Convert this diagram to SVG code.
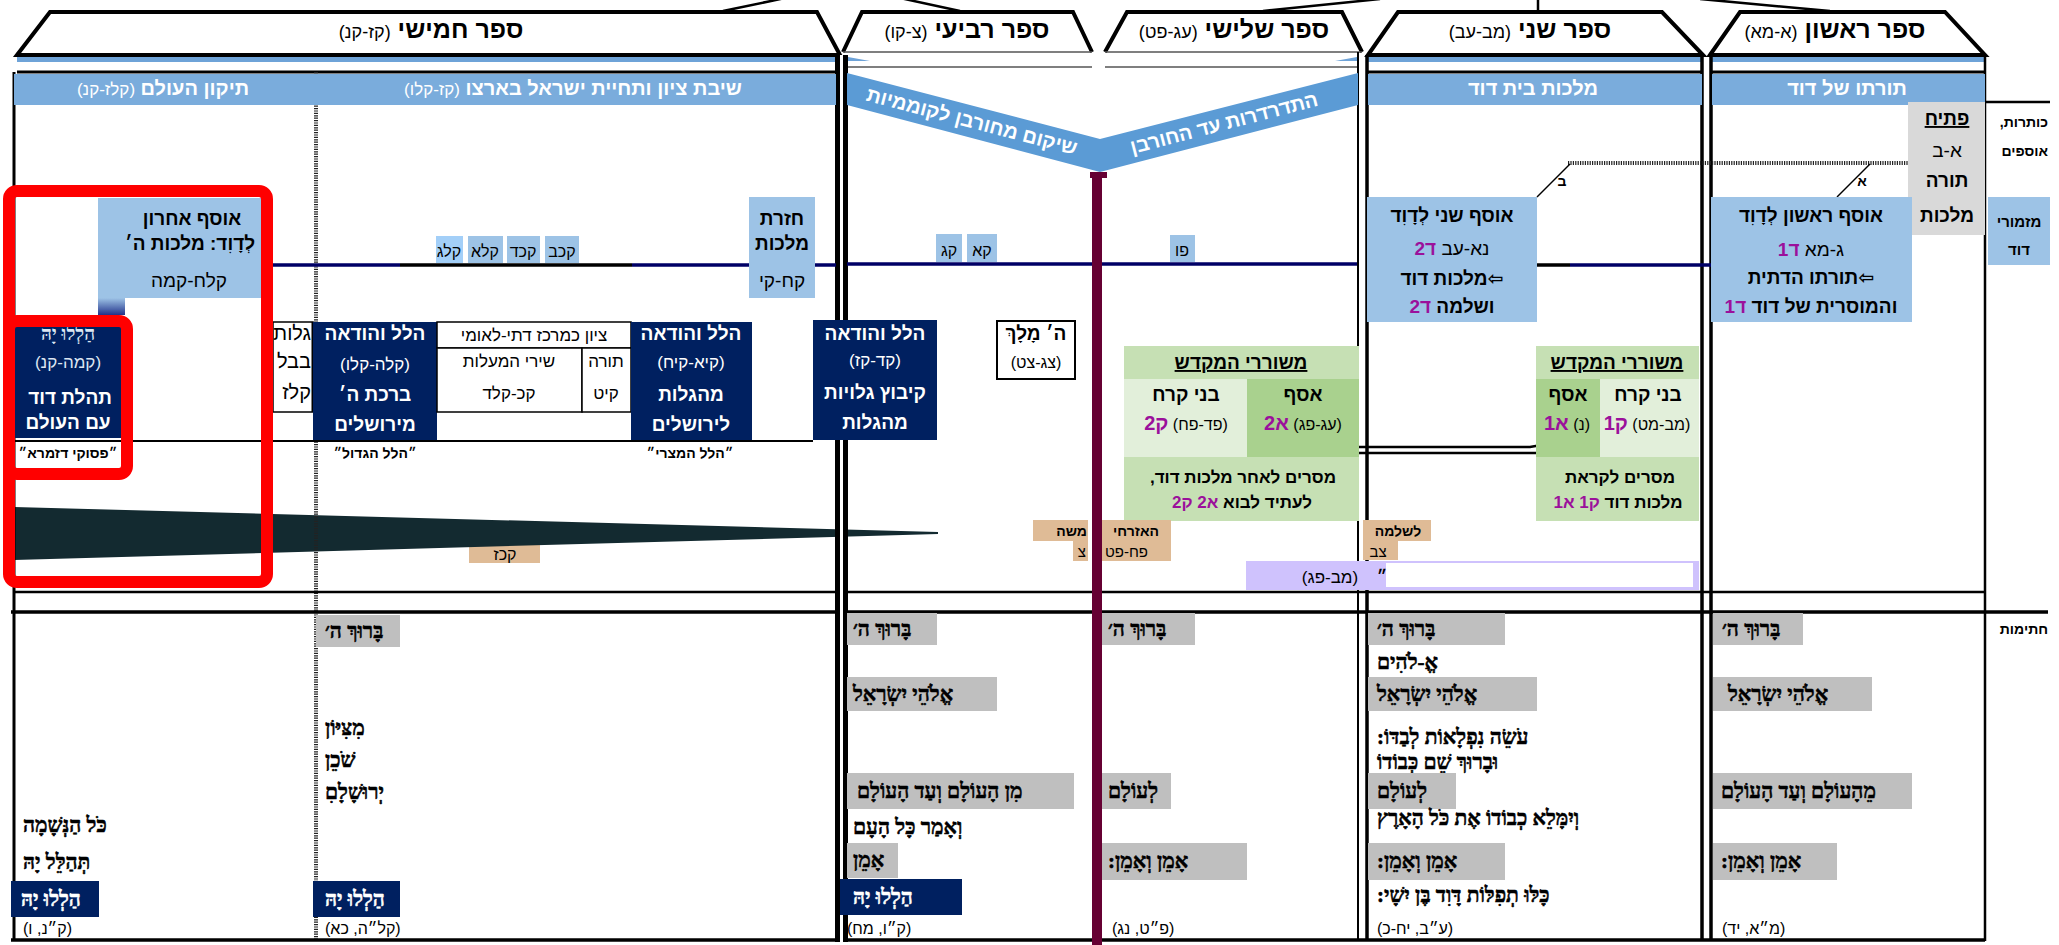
<svg xmlns="http://www.w3.org/2000/svg" width="2059" height="945" viewBox="0 0 2059 945">
<defs>
<style>
text{font-family:"Liberation Sans","DejaVu Sans",sans-serif;direction:rtl;fill:#000}
.b{font-weight:bold}
.c{text-anchor:middle}
.L{text-anchor:end}
.R{text-anchor:start}
.hd{font-size:25px;font-weight:bold}
.hs{font-size:18px;font-weight:normal}
.bd{font-size:20px;font-weight:bold;fill:#fff}
.bs{font-size:17px;font-weight:normal;fill:#fff}
.bx{font-size:19px}
.sm{font-size:16px}
.lab{font-size:14px;font-weight:bold}
.q{font-family:"Liberation Serif","DejaVu Sans",serif;font-weight:bold;font-size:21px;text-anchor:end;stroke:#000;stroke-width:0.55}
.q.w{stroke:#fff}
.ref{font-size:16px;text-anchor:end}
.w{fill:#fff}
.pu{fill:#9b109b;font-weight:bold}
.navy{fill:#002060}
.lb{fill:#9dc3e6}
.gr{fill:#bfbfbf}
.tan{fill:#dfbb96}
.cell{fill:#fff;stroke:#000;stroke-width:1.5}
</style>
<linearGradient id="gfade" x1="0" y1="0" x2="0" y2="1"><stop offset="0" stop-color="#9dc3e6"/><stop offset="1" stop-color="#22328a"/></linearGradient>
<clipPath id="clipG"><rect x="273" y="322" width="40" height="90"/></clipPath>
</defs>
<rect width="2059" height="945" fill="#fff"/>

<!-- headers -->
<g id="book5-header">
<polygon points="17,55 50,12 817,12 840,55" fill="#fff" stroke="#000" stroke-width="4"/>
<text x="431" y="38" class="c"><tspan class="hd">ספר חמישי </tspan><tspan class="hs">(קז-קנ)</tspan></text>
</g>
<g id="book4-header">
<polygon points="843,52 862,12 1073,12 1092,52" fill="#fff"/>
<polyline points="843,52 862,12 1073,12 1092,52" fill="none" stroke="#000" stroke-width="4"/>
<line x1="843" y1="52" x2="1092" y2="52" stroke="#555" stroke-width="1.5"/>
<line x1="847" y1="67" x2="1092" y2="67" stroke="#555" stroke-width="1.5"/>
<text x="967" y="38" class="c"><tspan class="hd">ספר רביעי </tspan><tspan class="hs">(צ-קו)</tspan></text>
</g>
<g id="book3-header">
<polygon points="1105,52 1127,12 1342,12 1362,52" fill="#fff"/>
<polyline points="1105,52 1127,12 1342,12 1362,52" fill="none" stroke="#000" stroke-width="4"/>
<line x1="1105" y1="52" x2="1362" y2="52" stroke="#555" stroke-width="1.5"/>
<line x1="1105" y1="67" x2="1358" y2="67" stroke="#555" stroke-width="1.5"/>
<text x="1234" y="38" class="c"><tspan class="hd">ספר שלישי </tspan><tspan class="hs">(עג-פט)</tspan></text>
</g>
<g id="book2-header">
<polygon points="1368,55 1398,12 1662,12 1703,55" fill="#fff" stroke="#000" stroke-width="4"/>
<text x="1530" y="38" class="c"><tspan class="hd">ספר שני </tspan><tspan class="hs">(מב-עב)</tspan></text>
</g>
<g id="book1-header">
<polygon points="1710,55 1740,12 1945,12 1985,55" fill="#fff" stroke="#000" stroke-width="4"/>
<text x="1835" y="38" class="c"><tspan class="hd">ספר ראשון </tspan><tspan class="hs">(א-מא)</tspan></text>
</g>

<!-- strips under headers -->
<g id="strips" fill="#6ea3d8">
<rect x="17" y="57" width="821" height="5"/>
<rect x="1368" y="57" width="335" height="5"/>
<rect x="1712" y="57" width="273" height="5"/>
<polygon points="848,57 870,61 848,61"/>
<polygon points="1357,57 1335,61 1357,61"/>
</g>

<!-- wedge and background items -->
<g id="tan-127">
<rect x="469" y="545" width="71" height="18" class="tan"/>
<text x="505" y="560" class="c sm">קכז</text>
</g>
<g id="wedge">
<polygon points="14,507 938,532 938,534 14,560" fill="#132a30"/>
</g>

<!-- frame -->
<g id="frame" stroke="#000" fill="none">
<line x1="17" y1="72" x2="836" y2="72" stroke-width="3"/>
<line x1="1368" y1="72" x2="1703" y2="72" stroke-width="3"/>
<line x1="1712" y1="72" x2="1985" y2="72" stroke-width="3"/>
<line x1="14" y1="72" x2="14" y2="941" stroke-width="3"/>
<line x1="316" y1="72" x2="316" y2="940" stroke-width="4" stroke="#222" stroke-dasharray="1.2 1.2"/>
<line x1="1358" y1="52" x2="1358" y2="941" stroke-width="2"/>
<line x1="1367" y1="55" x2="1367" y2="941" stroke-width="3.5"/>
<line x1="1702" y1="55" x2="1702" y2="941" stroke-width="3.5"/>
<line x1="1711" y1="55" x2="1711" y2="941" stroke-width="3.5"/>
<line x1="1985" y1="55" x2="1985" y2="941" stroke-width="2.5"/>
<line x1="14" y1="592" x2="1985" y2="592" stroke-width="2.5"/>
<line x1="11" y1="612" x2="2048" y2="612" stroke-width="3.5"/>
<line x1="11" y1="940" x2="1985" y2="940" stroke-width="3.5"/>
<line x1="1985" y1="102" x2="2050" y2="102" stroke-width="2.5"/>
</g>
<g id="double-line-5-4">
<rect x="835" y="55" width="13" height="887" fill="#000"/>
<rect x="840" y="55" width="3" height="887" fill="#fff"/>
</g>

<!-- bands -->
<g id="band-tikkun">
<rect x="14" y="74" width="302" height="31" fill="#7aacdc"/>
<text x="163" y="95" class="c"><tspan class="bd">תיקון העולם </tspan><tspan class="bs">(קלז-קנ)</tspan></text>
</g>
<g id="band-shivat">
<rect x="316" y="74" width="520" height="31" fill="#7aacdc"/>
<text x="573" y="95" class="c"><tspan class="bd">שיבת ציון ותחיית ישראל בארצו </tspan><tspan class="bs">(קז-קלו)</tspan></text>
</g>
<g id="band-malchut">
<rect x="1368" y="74" width="334" height="31" fill="#7aacdc"/>
<text x="1533" y="95" class="c bd">מלכות בית דוד</text>
</g>
<g id="band-torato">
<rect x="1712" y="74" width="273" height="31" fill="#7aacdc"/>
<text x="1847" y="95" class="c bd">תורתו של דוד</text>
</g>
<g id="ribbon">
<polygon points="847,73 1100,139 1358,73 1358,105 1100,172 847,105" fill="#5b9bd5"/>
<text transform="translate(972,121) rotate(14.6)" y="7" class="c bd">שיקום מחורבן לקוממיות</text>
<text transform="translate(1224,123) rotate(-14.6)" y="7" class="c bd">התדרדרות עד החורבן</text>
</g>

<!-- labels column -->
<g id="label-titles">
<text x="2048" y="127" class="R lab">כותרות,</text>
<text x="2048" y="156" class="R lab">אוספים</text>
</g>
<g id="label-mizmorei">
<rect x="1988" y="197" width="62" height="68" class="lb"/>
<text x="2019" y="227" class="c lab" style="font-size:15px">מזמורי</text>
<text x="2019" y="255" class="c lab" style="font-size:15px">דוד</text>
</g>
<g id="label-chatimot">
<text x="2048" y="634" class="R lab">חתימות</text>
</g>

<!-- connectors -->
<g id="connectors" fill="none" stroke="#000">
<line x1="723" y1="11" x2="790" y2="-3" stroke-width="2.5"/>
<line x1="900" y1="-2" x2="960" y2="11" stroke-width="2.5"/>
<line x1="1263" y1="11" x2="1380" y2="-1" stroke-width="2.5"/>
<line x1="1538" y1="0" x2="1538" y2="12" stroke-width="2.5"/>
<line x1="1700" y1="-1" x2="1830" y2="11" stroke-width="2.5"/>
<polyline points="262,265 400,265" stroke="#000066" stroke-width="3.5"/>
<polyline points="400,265 632,265" stroke-width="3.5"/>
<polyline points="632,265 836,265" stroke="#000066" stroke-width="3.5"/>
<polyline points="847,264 1357,264" stroke="#000066" stroke-width="3.5"/>
<polyline points="1537,265 1570,265" stroke-width="3.5"/>
<polyline points="1570,265 1711,265" stroke="#000066" stroke-width="3.5"/>
<line x1="1568" y1="163" x2="1912" y2="163" stroke-width="4" stroke="#222" stroke-dasharray="1.2 1.2"/>
<line x1="1570" y1="164" x2="1537" y2="197" stroke-width="1.5"/>
<line x1="1870" y1="164" x2="1837" y2="197" stroke-width="1.5"/>
<polyline points="1302,440 1355,447 1530,447 1570,440" stroke-width="2.5"/>
<polyline points="1172,440 1247,453 1600,453 1640,440" stroke-width="2.5"/>
</g>
<g id="label-alef"><text x="1862" y="186" class="c lab">א</text></g>
<g id="label-bet"><text x="1562" y="186" class="c lab">ב</text></g>

<!-- book 1 -->
<g id="petiach">
<rect x="1908" y="102" width="77" height="133" fill="#d9d9d9"/>
<text x="1947" y="125" class="c b bx" text-decoration="underline">פתיח</text>
<text x="1947" y="157" class="c bx">א-ב</text>
<text x="1947" y="187" class="c b bx">תורה</text>
<text x="1947" y="222" class="c b bx">מלכות</text>
</g>
<g id="osef-rishon">
<rect x="1711" y="197" width="201" height="125" class="lb"/>
<text x="1811" y="222" class="c b bx">אוסף ראשון לְדָוִד</text>
<text x="1811" y="256" class="c bx">ג-מא <tspan class="pu">ד1</tspan></text>
<text x="1811" y="284" class="c b bx">⇦תורתו הדתית</text>
<text x="1811" y="313" class="c b bx">והמוסרית של דוד <tspan class="pu">ד1</tspan></text>
</g>

<!-- book 2 -->
<g id="osef-sheni">
<rect x="1367" y="197" width="170" height="125" class="lb"/>
<text x="1452" y="222" class="c b bx">אוסף שני לְדָוִד</text>
<text x="1452" y="255" class="c bx">נא-עב <tspan class="pu">ד2</tspan></text>
<text x="1452" y="285" class="c b bx">⇦מלכות דוד</text>
<text x="1452" y="313" class="c b bx">ושלמה <tspan class="pu">ד2</tspan></text>
</g>
<g id="meshorerim-2">
<rect x="1536" y="346" width="163" height="33" fill="#c6e0b4"/>
<rect x="1536" y="379" width="64" height="78" fill="#a9d18e"/>
<rect x="1600" y="379" width="99" height="78" fill="#e2efda"/>
<rect x="1536" y="457" width="163" height="64" fill="#c6e0b4"/>
<text x="1617" y="369" class="c b bx" text-decoration="underline">משוררי המקדש</text>
<text x="1568" y="401" class="c b bx">אסף</text>
<text x="1567" y="430" class="c sm">(נ) <tspan class="pu" style="font-size:20px">א1</tspan></text>
<text x="1648" y="401" class="c b bx">בני קרח</text>
<text x="1647" y="430" class="c sm">(מב-מט) <tspan class="pu" style="font-size:20px">ק1</tspan></text>
<text x="1620" y="483" class="c b" style="font-size:17px">מסרים לקראת</text>
<text x="1618" y="508" class="c b" style="font-size:17px">מלכות דוד <tspan class="pu">ק1 א1</tspan></text>
</g>
<g id="tan-lishlomo">
<rect x="1363" y="520" width="68" height="21" class="tan"/>
<rect x="1363" y="541" width="35" height="19" class="tan"/>
<text x="1398" y="536" class="c lab">לשלמה</text>
<text x="1378" y="557" class="c" style="font-size:15px">צב</text>
</g>
<g id="purple-range">
<rect x="1246" y="561" width="453" height="29" fill="#cfc2fd"/>
<rect x="1386" y="563" width="307" height="24" fill="#fff"/>
<text x="1330" y="583" class="c" style="font-size:17px">(מב-פג)</text>
<text x="1382" y="583" class="c b" style="font-size:17px">״</text>
</g>

<!-- book 3 -->
<g id="pu-86">
<rect x="1170" y="235" width="25" height="27" class="lb"/>
<text x="1182" y="256" class="c sm">פו</text>
</g>
<g id="meshorerim-3">
<rect x="1124" y="346" width="235" height="33" fill="#c6e0b4"/>
<rect x="1124" y="379" width="123" height="78" fill="#e2efda"/>
<rect x="1247" y="379" width="112" height="78" fill="#a9d18e"/>
<rect x="1124" y="457" width="235" height="64" fill="#c6e0b4"/>
<text x="1241" y="369" class="c b bx" text-decoration="underline">משוררי המקדש</text>
<text x="1186" y="401" class="c b bx">בני קרח</text>
<text x="1186" y="430" class="c sm">(פד-פח) <tspan class="pu" style="font-size:20px">ק2</tspan></text>
<text x="1303" y="401" class="c b bx">אסף</text>
<text x="1303" y="430" class="c sm">(עג-פג) <tspan class="pu" style="font-size:20px">א2</tspan></text>
<text x="1243" y="483" class="c b" style="font-size:17px">מסרים לאחר מלכות דוד,</text>
<text x="1242" y="508" class="c b" style="font-size:17px">לעתיד לבוא <tspan class="pu">א2 ק2</tspan></text>
</g>
<g id="tan-ezrachi">
<rect x="1102" y="520" width="69" height="41" class="tan"/>
<text x="1136" y="536" class="c lab">האזרחי</text>
<text x="1105" y="557" class="L" style="font-size:15px">פח-פט</text>
</g>
<g id="tan-moshe">
<rect x="1033" y="520" width="55" height="21" class="tan"/>
<rect x="1073" y="541" width="15" height="20" class="tan"/>
<text x="1087" y="536" class="R lab">משה</text>
<text x="1086" y="557" class="R" style="font-size:15px">צ</text>
</g>

<!-- book 4 -->
<g id="kg-ka">
<rect x="936" y="234" width="26" height="28" class="lb"/>
<rect x="967" y="234" width="30" height="28" class="lb"/>
<text x="949" y="256" class="c sm">קג</text>
<text x="982" y="256" class="c sm">קא</text>
</g>
<g id="hashem-malach">
<rect x="997" y="321" width="78" height="58" fill="#fff" stroke="#000" stroke-width="2"/>
<text x="1036" y="340" class="c b bx">ה׳ מָלָךְ</text>
<text x="1036" y="368" class="c sm">(צג-צט)</text>
</g>
<g id="hallel-104">
<rect x="813" y="320" width="124" height="120" class="navy"/>
<text x="875" y="340" class="c bd" style="font-size:19px">הלל והודאה</text>
<text x="875" y="366" class="c bs">(קד-קז)</text>
<text x="875" y="399" class="c bd" style="font-size:19px">קיבוץ גלויות</text>
<text x="875" y="429" class="c bd" style="font-size:19px">מהגלות</text>
</g>

<!-- book 5 -->
<g id="small-boxes-5">
<rect x="436" y="236" width="27" height="27" fill="#a3cff8"/>
<rect x="468" y="236" width="35" height="27" class="lb"/>
<rect x="507" y="236" width="33" height="27" class="lb"/>
<rect x="545" y="236" width="34" height="27" class="lb"/>
<text x="449" y="257" class="c sm">קלג</text>
<text x="485" y="257" class="c sm">קלא</text>
<text x="523" y="257" class="c sm">קכד</text>
<text x="562" y="257" class="c sm">קכב</text>
</g>
<g id="chazarat-malchut">
<rect x="749" y="197" width="66" height="101" class="lb"/>
<text x="782" y="225" class="c b bx">חזרת</text>
<text x="782" y="250" class="c b bx">מלכות</text>
<text x="782" y="287" class="c bx">קח-קי</text>
</g>
<g id="osef-acharon">
<rect x="98" y="198" width="170" height="100" class="lb"/>
<rect x="98" y="298" width="27" height="17" fill="url(#gfade)"/>
<text x="192" y="225" class="c b bx">אוסף אחרון</text>
<text x="190" y="250" class="c b bx">לְדָוִד: מלכות ה׳</text>
<text x="189" y="287" class="c bx">קלח-קמה</text>
</g>
<g id="hallel-145">
<rect x="14" y="327" width="108" height="111" class="navy"/>
<text x="68" y="340" class="c b" style="font-size:19px;fill:#dce6f2;font-family:'Liberation Serif','DejaVu Sans',serif">הַלְלוּ יָהּ</text>
<text x="68" y="368" class="c" style="font-size:17px;fill:#dce6f2">(קמה-קנ)</text>
<text x="70" y="404" class="c bd" style="font-size:19px">תהלת דוד</text>
<text x="68" y="429" class="c bd" style="font-size:19px">עם העולם</text>
</g>
<g id="galut-bavel">
<rect x="273" y="322" width="40" height="90" class="cell"/>
<g clip-path="url(#clipG)">
<text x="311" y="340" class="R" style="font-size:20px">גלות</text>
<text x="311" y="368" class="R" style="font-size:20px">בבל</text>
<text x="311" y="399" class="R" style="font-size:20px">קלז</text>
</g>
<line x1="313" y1="322" x2="313" y2="412" stroke="#000" stroke-width="3"/>
</g>
<g id="hallel-135">
<rect x="313" y="322" width="124" height="118" class="navy"/>
<text x="375" y="340" class="c bd" style="font-size:19px">הלל והודאה</text>
<text x="375" y="370" class="c bs">(קלה-קלו)</text>
<text x="375" y="401" class="c bd" style="font-size:19px">ברכת ה׳</text>
<text x="375" y="431" class="c bd" style="font-size:19px">מירושלים</text>
</g>
<g id="zion-table">
<rect x="437" y="322" width="194" height="26" class="cell"/>
<rect x="437" y="348" width="145" height="64" class="cell"/>
<rect x="582" y="348" width="49" height="64" class="cell"/>
<line x1="633" y1="380" x2="633" y2="412" stroke="#000" stroke-width="3"/>
<text x="534" y="341" class="c" style="font-size:17px">ציון כמרכז דתי-לאומי</text>
<text x="509" y="367" class="c" style="font-size:17px">שירי המעלות</text>
<text x="509" y="399" class="c" style="font-size:17px">קכ-קלד</text>
<text x="606" y="367" class="c" style="font-size:17px">תורה</text>
<text x="606" y="399" class="c" style="font-size:17px">קיט</text>
</g>
<g id="hallel-111">
<rect x="631" y="322" width="121" height="118" class="navy"/>
<text x="691" y="340" class="c bd" style="font-size:19px">הלל והודאה</text>
<text x="691" y="368" class="c bs">(קיא-קיח)</text>
<text x="691" y="401" class="c bd" style="font-size:19px">מהגלות</text>
<text x="691" y="431" class="c bd" style="font-size:19px">לירושלים</text>
</g>
<g id="hallel-line">
<line x1="14" y1="441" x2="813" y2="441" stroke="#000" stroke-width="2"/>
</g>
<g id="hallel-labels">
<text x="68" y="458" class="c lab">״פסוקי דזמרא״</text>
<text x="375" y="458" class="c lab">״הלל הגדול״</text>
<text x="690" y="458" class="c lab">״הלל המצרי״</text>
</g>

<!-- maroon bar -->
<g id="maroon-bar">
<rect x="1092" y="172" width="10" height="773" fill="#660033"/>
<rect x="1090" y="172" width="17" height="6" fill="#660033"/>
</g>

<!-- bottom: book 5 -->
<g id="end-150">
<text x="23" y="832" class="q">כֹּל הַנְּשָׁמָה</text>
<text x="23" y="869" class="q">תְּהַלֵּל יָהּ</text>
<rect x="11" y="881" width="88" height="36" class="navy"/>
<text x="21" y="906" class="q w">הַלְלוּ יָהּ</text>
<text x="23" y="934" class="ref">(ק״נ, ו)</text>
</g>
<g id="end-135">
<rect x="316" y="615" width="84" height="32" class="gr"/>
<text x="325" y="638" class="q">בָּרוּךְ ה׳</text>
<text x="325" y="735" class="q">מִצִּיּוֹן</text>
<text x="325" y="767" class="q">שֹׁכֵן</text>
<text x="325" y="799" class="q">יְרוּשָׁלָםִ</text>
<rect x="313" y="881" width="87" height="36" class="navy"/>
<text x="325" y="906" class="q w">הַלְלוּ יָהּ</text>
<text x="325" y="934" class="ref">(קל״ה, כא)</text>
</g>
<!-- bottom: book 4 -->
<g id="end-106">
<rect x="847" y="613" width="90" height="32" class="gr"/>
<text x="853" y="636" class="q">בָּרוּךְ ה׳</text>
<rect x="847" y="677" width="150" height="34" class="gr"/>
<text x="853" y="701" class="q">אֱלֹהֵי יִשְׂרָאֵל</text>
<rect x="847" y="773" width="227" height="36" class="gr"/>
<text x="857" y="798" class="q">מִן הָעוֹלָם וְעַד הָעוֹלָם</text>
<text x="853" y="834" class="q">וְאָמַר כָּל הָעָם</text>
<rect x="847" y="843" width="51" height="35" class="gr"/>
<text x="853" y="867" class="q">אָמֵן</text>
<rect x="840" y="879" width="122" height="36" class="navy"/>
<text x="853" y="904" class="q w">הַלְלוּ יָהּ</text>
<text x="847" y="934" class="ref">(ק״ו, מח)</text>
</g>
<!-- bottom: book 3 -->
<g id="end-89">
<rect x="1102" y="613" width="93" height="32" class="gr"/>
<text x="1108" y="636" class="q">בָּרוּךְ ה׳</text>
<rect x="1102" y="773" width="69" height="36" class="gr"/>
<text x="1108" y="798" class="q">לְעוֹלָם</text>
<rect x="1102" y="843" width="145" height="37" class="gr"/>
<text x="1108" y="868" class="q">אָמֵן וְאָמֵן:</text>
<text x="1112" y="934" class="ref">(פ״ט, נג)</text>
</g>
<!-- bottom: book 2 -->
<g id="end-72">
<rect x="1368" y="613" width="137" height="32" class="gr"/>
<text x="1377" y="636" class="q">בָּרוּךְ ה׳</text>
<text x="1377" y="669" class="q">אֱ-לֹהִים</text>
<rect x="1368" y="677" width="169" height="34" class="gr"/>
<text x="1377" y="701" class="q">אֱלֹהֵי יִשְׂרָאֵל</text>
<text x="1377" y="744" class="q">עֹשֵׂה נִפְלָאוֹת לְבַדּוֹ:</text>
<text x="1377" y="769" class="q">וּבָרוּךְ שֵׁם כְּבוֹדוֹ</text>
<rect x="1368" y="773" width="88" height="36" class="gr"/>
<text x="1377" y="798" class="q">לְעוֹלָם</text>
<text x="1377" y="825" class="q">וְיִמָּלֵא כְבוֹדוֹ אֶת כֹּל הָאָרֶץ</text>
<rect x="1368" y="843" width="137" height="37" class="gr"/>
<text x="1377" y="868" class="q">אָמֵן וְאָמֵן:</text>
<text x="1377" y="902" class="q">כָּלּוּ תְפִלּוֹת דָּוִד בֶּן יִשָׁי:</text>
<text x="1377" y="934" class="ref">(ע״ב, יח-כ)</text>
</g>
<!-- bottom: book 1 -->
<g id="end-41">
<rect x="1713" y="613" width="90" height="32" class="gr"/>
<text x="1722" y="636" class="q">בָּרוּךְ ה׳</text>
<rect x="1713" y="677" width="159" height="34" class="gr"/>
<text x="1728" y="701" class="q">אֱלֹהֵי יִשְׂרָאֵל</text>
<rect x="1713" y="773" width="199" height="36" class="gr"/>
<text x="1721" y="798" class="q">מֵהָעוֹלָם וְעַד הָעוֹלָם</text>
<rect x="1713" y="843" width="124" height="37" class="gr"/>
<text x="1721" y="868" class="q">אָמֵן וְאָמֵן:</text>
<text x="1722" y="934" class="ref">(מ״א, יד)</text>
</g>

<!-- highlight frames -->
<g id="highlight" fill="none" stroke="#ff0000" stroke-width="12">
<rect x="9" y="191" width="258" height="391" rx="8"/>
<rect x="9" y="321" width="118" height="153" rx="8"/>
</g>
</svg>
